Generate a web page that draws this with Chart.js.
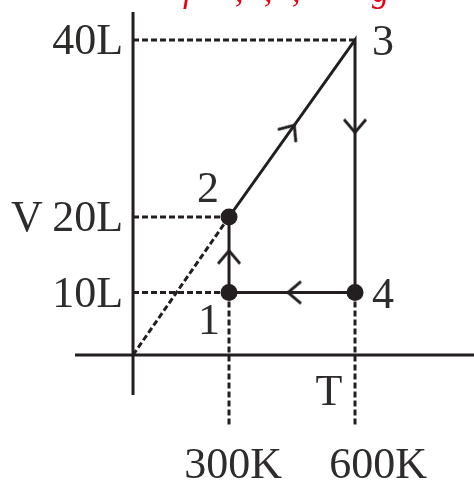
<!DOCTYPE html>
<html>
<head>
<meta charset="utf-8">
<script src="https://cdn.jsdelivr.net/npm/chart.js@4/dist/chart.umd.min.js"></script>
<style>
  html, body { margin: 0; padding: 0; background: #fff; }
</style>
</head>
<body>
<canvas id="chart" width="474" height="482"></canvas>
<script>
// states of the cycle: temperature (K) and volume (L)
const stateNames = ['1', '2', '3', '4'];
const stateT = [300, 300, 600, 600];
const stateV = [10, 20, 40, 10];
const stateDot = [true, true, false, true];

// axis ticks
const volTicks = [10, 20, 40];
const volTickLabels = ['10L', '20L', '40L'];
const tempTicks = [300, 600];
const tempTickLabels = ['300K', '600K'];

// arrow heads on each process (T, V, direction in degrees, 0 = up)
const arrowT = [300, 450, 600, 450];
const arrowV = [15, 30, 30, 10];
const arrowDir = [0, 35, 180, 270];

// dashed guide lines [[T, V], [T, V]]
const guideLines = [
  [[0, 40], [600, 40]],
  [[0, 20], [300, 20]],
  [[0, 10], [300, 10]],
  [[0, 0], [300, 20]],
  [[300, 10], [300, -11.5]],
  [[600, 10], [600, -11.5]]
];

const INK = '#231f20';
const TEXT = '#2e2b2b';
const FONT = '44px "Liberation Serif", "DejaVu Serif", serif';

// the sketch is not to scale, so the axes map ticks piecewise
class StopScale extends Chart.LinearScale {
  getPixelForValue(value) {
    const stops = this.options.stops;
    let i = 1;
    while (i < stops.length - 1 && value > stops[i][0]) i++;
    const [v0, f0] = stops[i - 1];
    const [v1, f1] = stops[i];
    return this.getPixelForDecimal(f0 + (value - v0) * (f1 - f0) / (v1 - v0));
  }
  getValueForPixel(pixel) {
    const stops = this.options.stops;
    const f = this.getDecimalForPixel(pixel);
    let i = 1;
    while (i < stops.length - 1 && f > stops[i][1]) i++;
    const [v0, f0] = stops[i - 1];
    const [v1, f1] = stops[i];
    return v0 + (f - f0) * (v1 - v0) / (f1 - f0);
  }
}
StopScale.id = 'stops';
StopScale.defaults = Chart.LinearScale.defaults;
Chart.register(StopScale);

function chevron() {
  const c = document.createElement('canvas');
  c.width = 30; c.height = 30;
  const g = c.getContext('2d');
  g.strokeStyle = INK;
  g.lineWidth = 2.8;
  g.lineJoin = 'miter';
  g.beginPath();
  g.moveTo(4, 24);
  g.lineTo(15, 11);
  g.lineTo(26, 24);
  g.stroke();
  return c;
}

const cycle = stateT.map((t, i) => ({ x: t, y: stateV[i] }));
cycle.push({ x: stateT[0], y: stateV[0] });
const cycleDots = stateDot.map(d => d ? 8.5 : 0);
cycleDots.push(0);

const guideSets = guideLines.map(seg => ({
  data: seg.map(p => ({ x: p[0], y: p[1] })),
  borderColor: INK,
  borderWidth: 3,
  borderDash: [6, 3],
  borderCapStyle: 'butt',
  pointRadius: 0,
  clip: false
}));

const sketchPlugin = {
  id: 'sketch',
  beforeDatasetsDraw(chart, args, opts) {
    const { ctx, chartArea, scales: { x, y } } = chart;
    const x0 = x.getPixelForValue(0);
    const y0 = y.getPixelForValue(0);
    ctx.save();
    ctx.strokeStyle = INK;
    ctx.lineWidth = 3;
    ctx.beginPath();
    ctx.moveTo(x0, chartArea.top);
    ctx.lineTo(x0, chartArea.bottom);
    ctx.moveTo(chartArea.left, y0);
    ctx.lineTo(chartArea.right, y0);
    ctx.stroke();
    ctx.restore();
  },
  afterDraw(chart, args, opts) {
    const { ctx, scales: { x, y } } = chart;
    const x0 = x.getPixelForValue(0);
    ctx.save();
    ctx.fillStyle = TEXT;
    ctx.font = FONT;
    ctx.textBaseline = 'alphabetic';

    // volume ticks
    ctx.textAlign = 'right';
    volTicks.forEach((v, i) => {
      ctx.fillText(volTickLabels[i], x0 - 10, y.getPixelForValue(v) + 14);
    });
    ctx.textAlign = 'left';
    ctx.fillText('V', 11, y.getPixelForValue(20) + 14);

    // temperature ticks
    ctx.textAlign = 'center';
    tempTicks.forEach((t, i) => {
      ctx.fillText(tempTickLabels[i], x.getPixelForValue(t) + opts.tempShift[i], 478);
    });
    ctx.fillText('T', x.getPixelForValue(600) - 26, 405);

    // state numbers
    stateNames.forEach((n, i) => {
      const [dx, dy] = opts.nameShift[i];
      ctx.fillText(n, x.getPixelForValue(stateT[i]) + dx, y.getPixelForValue(stateV[i]) + dy);
    });

    // cut-off caption at the top
    ctx.fillStyle = '#e60012';
    ctx.font = 'italic 34px "Liberation Serif", serif';
    ctx.textAlign = 'left';
    opts.caption.forEach(([s, px]) => ctx.fillText(s, px, 2));
    ctx.restore();
  }
};

new Chart(document.getElementById('chart'), {
  type: 'line',
  data: {
    datasets: [
      {
        data: cycle,
        borderColor: INK,
        borderWidth: 3,
        borderJoinStyle: 'miter',
        pointRadius: cycleDots,
        pointBackgroundColor: INK,
        pointBorderWidth: 0,
        clip: false
      },
      {
        data: arrowT.map((t, i) => ({ x: t, y: arrowV[i] })),
        showLine: false,
        pointStyle: chevron(),
        pointRadius: 10,
        rotation: arrowDir,
        clip: false
      },
      ...guideSets
    ]
  },
  options: {
    responsive: false,
    animation: false,
    layout: { autoPadding: false, padding: { left: 75, right: 0, top: 12, bottom: 87 } },
    scales: {
      x: {
        type: 'stops', display: false, min: -180, max: 800,
        stops: [[0, 0.1454], [300, 0.3860], [600, 0.7018]]
      },
      y: {
        type: 'stops', display: false, min: -12, max: 45,
        stops: [[0, 0.1044], [10, 0.2676], [20, 0.4648], [40, 0.9269]]
      }
    },
    plugins: {
      legend: { display: false },
      tooltip: { enabled: false },
      sketch: {
        tempShift: [4, 23],
        nameShift: [[-20, 41], [-21, -15], [28, 15], [28, 15]],
        caption: [['f', 183], [',', 235], [',', 264], [',', 292], ['g', 372]]
      }
    }
  },
  plugins: [sketchPlugin]
});
</script>
</body>
</html>
